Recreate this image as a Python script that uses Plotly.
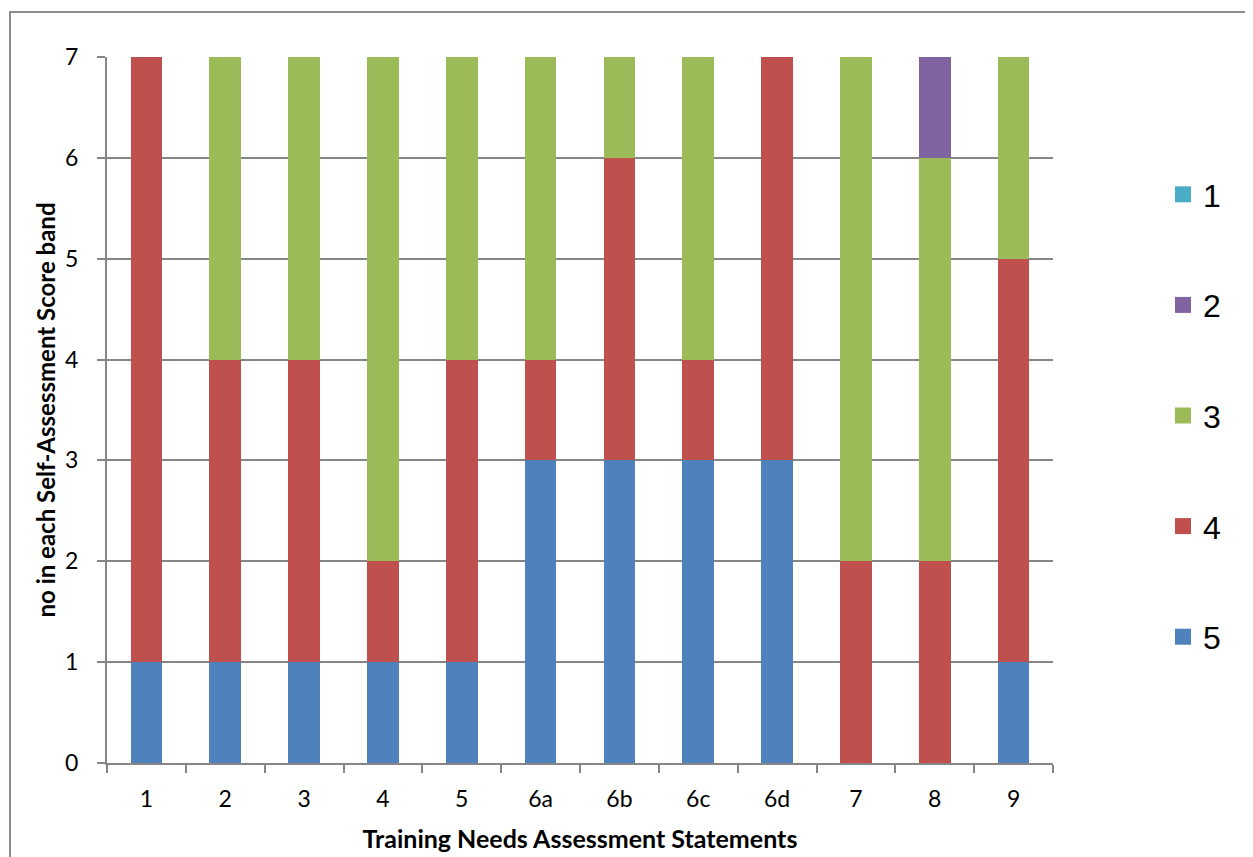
import plotly.graph_objects as go

categories = ["1", "2", "3", "4", "5", "6a", "6b", "6c", "6d", "7", "8", "9"]
band5 = [1, 1, 1, 1, 1, 3, 3, 3, 3, 0, 0, 1]
band4 = [6, 3, 3, 1, 3, 1, 3, 1, 4, 2, 2, 4]
band3 = [0, 3, 3, 5, 3, 3, 1, 3, 0, 5, 4, 2]
band2 = [0, 0, 0, 0, 0, 0, 0, 0, 0, 0, 1, 0]
band1 = [0, 0, 0, 0, 0, 0, 0, 0, 0, 0, 0, 0]

series = [
    ("5", band5, "#4F81BD"),
    ("4", band4, "#C0504D"),
    ("3", band3, "#9BBB59"),
    ("2", band2, "#8064A2"),
    ("1", band1, "#4BACC6"),
]

fig = go.Figure()
for name, vals, col in series:
    fig.add_trace(go.Bar(x=categories, y=vals, name=name, marker=dict(color=col, line=dict(width=0)),
                         legendgroup=name, showlegend=False))
# legend entries (square swatches)
for name, vals, col in series:
    fig.add_trace(go.Scatter(x=[None], y=[None], mode="markers", name=name, legendgroup=name,
                             legendrank=int(name),
                             marker=dict(symbol="square", size=16, color=col, line=dict(width=0))))

OFF = 8  # page body margin
W, H = 1253 - OFF, 857 - OFF
L, T = 107 - OFF, 57 - OFF
R = W - (1053 - OFF)
B = H - (763 - OFF)
pw, ph = W - L - R, H - T - B

fig.update_layout(
    width=W, height=H,
    margin=dict(l=L, r=R, t=T, b=B),
    barmode="stack", bargap=0.6,
    plot_bgcolor="white", paper_bgcolor="white",
    font=dict(family="Lato, Carlito, sans-serif", color="black"),
    showlegend=True,
    legend=dict(traceorder="grouped", x=1 + (1163 - 1053) / pw, xanchor="left",
                y=1 - (167 - 57) / ph, yanchor="top", itemsizing="trace",
                font=dict(family="Liberation Sans, Arial, sans-serif", size=32),
                tracegroupgap=66, itemwidth=30),
    xaxis=dict(type="category", showline=True, linecolor="#868686", linewidth=2,
               ticks="outside", tickson="boundaries", ticklen=8, tickcolor="#868686", tickwidth=2,
               tickfont=dict(size=23), showgrid=False, ticklabelstandoff=14, automargin=False,
               title=dict(text="<b>Training Needs Assessment Statements</b>", font=dict(size=25), standoff=20)),
    yaxis=dict(range=[0, 7], dtick=1, showline=True, linecolor="#868686", linewidth=2,
               ticks="outside", ticklen=8, tickcolor="#868686", tickwidth=2,
               showgrid=True, gridcolor="#868686", gridwidth=1.5, ticklabelstandoff=14,
               tickfont=dict(size=23), zeroline=False, automargin=False,
               title=dict(text="<b>no in each Self-Assessment Score band</b>", font=dict(size=24), standoff=3)),
    shapes=[dict(type="rect", xref="paper", yref="paper",
                 x0=(10 - 107) / pw, x1=(W + 40 - L) / pw,
                 y0=-(B + 40) / ph, y1=1 + (57 - 12) / ph,
                 line=dict(color="#8C8C8C", width=2), fillcolor="rgba(0,0,0,0)", layer="below")],
)

fig.write_html("out.html")
